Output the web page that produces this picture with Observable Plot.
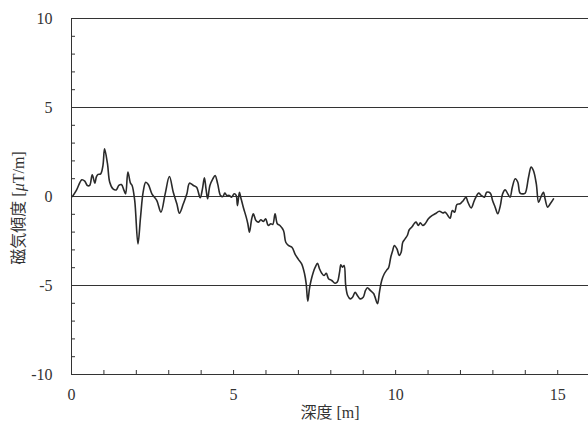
<!DOCTYPE html>
<html>
<head>
<meta charset="utf-8">
<script src="https://cdn.jsdelivr.net/npm/d3@7"></script>
<script src="https://cdn.jsdelivr.net/npm/@observablehq/plot@0.6"></script>
<style>
  html, body { margin: 0; padding: 0; background: #fff; overflow: hidden; }
  #chart svg { display: block; }
  #chart svg, #chart svg text { font-family: "Times New Roman", "Liberation Serif", Tinos, "Noto Sans CJK JP", serif !important; }
</style>
</head>
<body>
<div id="chart"></div>
<script>
const depth = [0.03,0.15,0.32,0.41,0.49,0.56,0.64,0.72,0.77,0.82,0.90,0.97,1.02,1.11,1.18,1.28,1.38,1.46,1.54,1.62,1.67,1.74,1.82,1.87,1.95,2.05,2.13,2.21,2.29,2.37,2.48,2.63,2.76,2.89,3.02,3.14,3.25,3.33,3.45,3.56,3.64,3.76,3.86,3.97,4.04,4.10,4.15,4.20,4.27,4.36,4.43,4.51,4.60,4.67,4.73,4.79,4.87,4.94,5.02,5.08,5.12,5.18,5.22,5.30,5.39,5.44,5.49,5.56,5.61,5.69,5.77,5.84,5.92,5.99,6.07,6.15,6.21,6.28,6.35,6.43,6.54,6.61,6.69,6.80,6.90,7.00,7.10,7.19,7.24,7.29,7.34,7.39,7.46,7.52,7.59,7.65,7.72,7.79,7.86,7.93,8.03,8.13,8.20,8.27,8.31,8.36,8.41,8.46,8.52,8.60,8.67,8.75,8.82,8.90,9.00,9.07,9.13,9.21,9.32,9.44,9.50,9.57,9.65,9.73,9.78,9.85,9.91,9.96,10.04,10.11,10.17,10.22,10.29,10.36,10.42,10.50,10.57,10.63,10.70,10.76,10.84,10.91,11.01,11.12,11.22,11.35,11.46,11.53,11.61,11.68,11.75,11.82,11.89,11.99,12.09,12.17,12.23,12.33,12.43,12.56,12.64,12.74,12.81,12.92,12.99,13.07,13.15,13.23,13.30,13.38,13.46,13.53,13.60,13.69,13.77,13.84,13.94,14.00,14.10,14.18,14.25,14.34,14.41,14.48,14.56,14.61,14.69,14.77,14.87];
const gradient = [0.0,0.34,0.94,0.86,0.62,0.62,1.22,0.75,1.12,1.24,1.27,1.74,2.68,1.84,0.80,0.43,0.37,0.62,0.67,0.34,0.15,1.37,0.75,0.62,-0.22,-2.66,-1.16,0.24,0.80,0.67,0.15,-0.22,-0.88,0.15,1.12,0.24,-0.41,-0.94,-0.41,0.15,0.75,0.62,0.52,-0.07,0.43,1.05,0.43,-0.13,0.62,0.99,1.18,0.71,0.05,0.0,0.19,0.06,0.06,-0.04,0.15,0.06,-0.51,0.24,-0.04,-0.60,-1.16,-1.53,-2.0,-1.25,-0.97,-1.35,-1.44,-1.31,-1.40,-1.25,-1.63,-1.53,-1.57,-0.97,-1.53,-1.63,-1.91,-2.57,-2.75,-2.85,-3.25,-3.53,-3.78,-4.34,-4.90,-5.88,-5.19,-4.72,-4.25,-3.97,-3.75,-4.06,-4.31,-4.44,-4.31,-4.62,-4.72,-4.87,-4.81,-4.25,-3.84,-3.97,-3.88,-5.0,-5.56,-5.75,-5.66,-5.38,-5.56,-5.75,-5.66,-5.28,-5.13,-5.26,-5.45,-6.02,-5.38,-4.72,-4.34,-4.12,-4.01,-3.41,-3.03,-2.75,-2.94,-3.31,-3.13,-2.57,-2.38,-2.19,-1.87,-1.72,-1.53,-1.44,-1.63,-1.48,-1.63,-1.53,-1.25,-1.07,-0.97,-0.83,-0.92,-0.88,-1.07,-1.22,-0.79,-0.88,-0.45,-0.41,-0.22,-0.04,-0.32,-0.64,-0.22,0.19,0.06,-0.04,0.24,0.19,-0.22,-0.60,-0.97,-0.51,0.15,0.37,0.15,-0.04,0.52,1.0,0.80,0.19,0.15,0.2,1.08,1.65,1.46,0.71,-0.32,-0.04,0.24,-0.13,-0.60,-0.41,-0.13];

const xTickLabels = [0, 5, 10, 15];
const yTickLabels = [-10, -5, 0, 5, 10];
const xMinorTicks = d3.range(0, 16, 1);
const yMinorTicks = d3.range(-10, 11, 1);
const gridLines = [-5, 0, 5];
const frameLines = [-10, 10];
const xLabel = "深度 [m]";
const yLabelParts = ["磁気傾度 [", "μ", "T/m]"];

const data = depth.map((d, i) => ({depth: d, gradient: gradient[i]}));
const ink = "#333";

const plot = Plot.plot({
  width: 588,
  height: 421,
  marginLeft: 71,
  marginRight: 0,
  marginTop: 18,
  marginBottom: 47,
  style: {fontSize: "16px", color: ink, background: "#fff", overflow: "visible"},
  x: {domain: [0, 15.95]},
  y: {domain: [-10, 10]},
  marks: [
    Plot.ruleY(gridLines, {stroke: ink, strokeWidth: 1}),
    Plot.ruleY(frameLines, {stroke: ink, strokeWidth: 1}),
    Plot.ruleX([0], {stroke: ink, strokeWidth: 1}),
    Plot.axisX({ticks: xMinorTicks, tickSize: -4, text: null, label: null, stroke: ink}),
    Plot.axisY({ticks: yMinorTicks, tickSize: -4, text: null, label: null, stroke: ink}),
    Plot.axisX({ticks: xTickLabels, tickSize: 0, tickPadding: 14, tickFormat: d => String(d), fill: ink, fontSize: 16,
      label: xLabel, labelAnchor: "center", labelOffset: 43, labelArrow: "none"}),
    Plot.axisY({ticks: yTickLabels, tickSize: 0, tickPadding: 19, tickFormat: d => String(d), fill: ink, fontSize: 16, label: null}),
    Plot.line(data, {x: "depth", y: "gradient", stroke: "#2a2a2a", strokeWidth: 1.6, curve: "catmull-rom"})
  ]
});

// y axis title with italic mu
const svg = d3.select(plot);
const t = svg.append("text")
  .attr("transform", "translate(20,208) rotate(-90)")
  .attr("text-anchor", "middle")
  .attr("dominant-baseline", "middle")
  .attr("fill", ink)
  .style("font-size", "16px");
t.append("tspan").text(yLabelParts[0]);
t.append("tspan").attr("font-style", "italic").text(yLabelParts[1]);
t.append("tspan").text(yLabelParts[2]);

document.getElementById("chart").appendChild(plot);
</script>
</body>
</html>
